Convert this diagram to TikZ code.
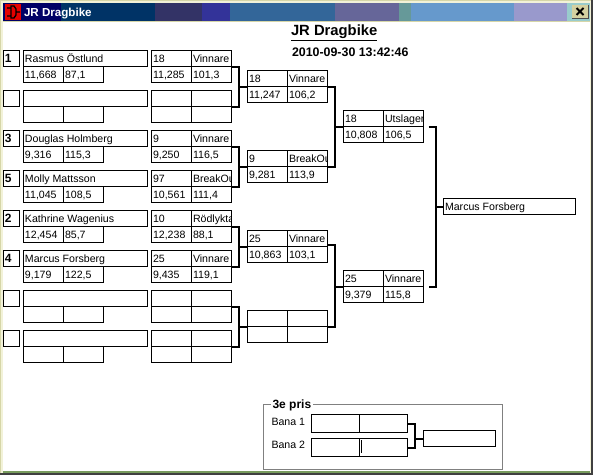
\documentclass[tikz,border=0pt]{standalone}
\usepackage{fontspec}
\setmainfont{Liberation Sans}
\usetikzlibrary{calc}
\definecolor{khaki}{HTML}{D6D6A8}
\definecolor{cream}{HTML}{F2F2D8}
\definecolor{btn}{HTML}{D4D0A0}
\tikzset{
  cellbox/.style={draw=black,line width=0.75pt,fill=white,inner sep=0pt,outer sep=0pt},
  celltext/.style={inner sep=0pt,outer sep=0pt,anchor=base west,font=\fontsize{7.95}{9}\selectfont},
  seedtext/.style={celltext,font=\bfseries\fontsize{9}{9}\selectfont},
  conn/.style={line width=1.5pt,black,line cap=butt,line join=miter},
  heading/.style={inner sep=0pt,outer sep=0pt,anchor=base west,font=\bfseries\fontsize{9.3}{10}\selectfont},
}
% name, x, y, w, h, text, text style
\newcommand{\cellbase}[7]{%
  \node[cellbox,minimum width=#4*0.75pt,minimum height=#5*0.75pt] (#1) at ({#2+#4/2},{#3+#5/2}) {};
  \begin{scope}
    \clip (#1.south west) rectangle (#1.north east);
    \node[#7] (#1t) at ({#2+1.5},{#3+11.5}) {#6};
  \end{scope}}
\newcommand{\cell}[6]{\cellbase{#1}{#2}{#3}{#4}{#5}{#6}{celltext}}
\newcommand{\racer}[6]{% prefix y seed name t1 t2
  \cellbase{s#1}{3.5}{#2}{16}{16}{#3}{seedtext}
  \cell{n#1}{23.5}{#2}{124}{16}{#4}
  \cell{t#1}{23.5}{#2+16}{40}{16}{#5}
  \cell{v#1}{63.5}{#2+16}{40}{16}{#6}}
\newcommand{\fullmatch}[7]{% prefix x y t1 t2 t3 t4
  \cell{#1a}{#2}{#3}{40}{16}{#4}
  \cell{#1b}{#2+40}{#3}{40}{16}{#5}
  \cell{#1c}{#2}{#3+16}{40}{16}{#6}
  \cell{#1d}{#2+40}{#3+16}{40}{16}{#7}}
% top match, bottom match, target match
\newcommand{\bracket}[3]{%
  \draw[conn] (#1b.south east) -- ++(7.5,0) coordinate (j#3) -- (j#3|-#2b.south east) -- (#2b.south east);
  \draw[conn] (#3a.south west) -- (j#3|-#3a.south west);}
\begin{document}
\begin{tikzpicture}[x=0.75pt,y=-0.75pt]
\useasboundingbox (0,0) rectangle (593,475);
% window frame
\fill[khaki] (0,0) rectangle (593,475);
\fill[cream] (1,1) rectangle (590.5,472.5);
\fill[black!75] (590.5,0) rectangle (593,475);
\fill[black!75] (0,473) rectangle (593,475);
\fill[khaki!80!green!70!black] (3,471) rectangle (590,472.5);
\fill[white] (3,22) rectangle (590,471);
\fill[khaki] (3,21) rectangle (590,22);
% title bar
\foreach \xa/\xb/\col in {3/61/000066,61/155/003366,155/202/333366,202/230/333399,230/335/336699,335/399/666699,399/411/669999,411/514/6699CC,514/567/9999CC,567/590/99CCCC}{
  \definecolor{bandcol}{HTML}{\col}
  \fill[bandcol] (\xa,3) rectangle (\xb,21);
}
\fill[red!90!black] (5,4) rectangle (21,20);
\draw[black,line width=1pt] (7,8) -- (11,8) (7,16) -- (11,16) (11,6) -- (14,6) -- (16,9) -- (16,15) -- (14,18) -- (11,18) -- cycle (16,12) -- (20,12);
\node[heading,text=white,font=\bfseries\fontsize{8.7}{10}\selectfont] (wintitle) at (24,16) {JR Dragbike};
% close button
\fill[black!70] (572,5) rectangle (589,19);
\fill[btn] (572,5) rectangle (588,18);
\draw[black,line width=1.4pt] (576.5,8) -- (583.5,15) (583.5,8) -- (576.5,15);
% headings
\node[heading,font=\bfseries\fontsize{11.1}{12}\selectfont] (maintitle) at (291,35) {\underline{JR Dragbike}};
\node[heading] (datetitle) at (292,56.5) {2010-09-30 13:42:46};
% first column
\racer{1}{50.5}{1}{Rasmus Östlund}{11,668}{87,1}
\racer{2}{90.5}{}{}{}{}
\racer{3}{130.5}{3}{Douglas Holmberg}{9,316}{115,3}
\racer{4}{170.5}{5}{Molly Mattsson}{11,045}{108,5}
\racer{5}{210.5}{2}{Kathrine Wagenius}{12,454}{85,7}
\racer{6}{250.5}{4}{Marcus Forsberg}{9,179}{122,5}
\racer{7}{290.5}{}{}{}{}
\racer{8}{330.5}{}{}{}{}
% second column
\fullmatch{a}{151.5}{50.5}{18}{Vinnare}{11,285}{101,3}
\fullmatch{b}{151.5}{90.5}{}{}{}{}
\fullmatch{c}{151.5}{130.5}{9}{Vinnare}{9,250}{116,5}
\fullmatch{d}{151.5}{170.5}{97}{BreakOut}{10,561}{111,4}
\fullmatch{e}{151.5}{210.5}{10}{Rödlyktan}{12,238}{88,1}
\fullmatch{f}{151.5}{250.5}{25}{Vinnare}{9,435}{119,1}
\fullmatch{g}{151.5}{290.5}{}{}{}{}
\fullmatch{h}{151.5}{330.5}{}{}{}{}
% third column
\fullmatch{p}{247.5}{70.5}{18}{Vinnare}{11,247}{106,2}
\fullmatch{q}{247.5}{150.5}{9}{BreakOut}{9,281}{113,9}
\fullmatch{r}{247.5}{230.5}{25}{Vinnare}{10,863}{103,1}
\fullmatch{u}{247.5}{310.5}{}{}{}{}
% fourth column
\fullmatch{v}{343.5}{110.5}{18}{Utslagen}{10,808}{106,5}
\fullmatch{w}{343.5}{270.5}{25}{Vinnare}{9,379}{115,8}
% final
\cell{win}{443.5}{198.5}{132}{16}{Marcus Forsberg}
% connectors
\bracket{a}{b}{p}
\bracket{c}{d}{q}
\bracket{e}{f}{r}
\bracket{g}{h}{u}
\bracket{p}{q}{v}
\draw[conn] ([yshift=1.5pt]rb.south east) -- ++(7.5,0) coordinate (jw) -- (jw|-ub.south east) -- (ub.south east);
\draw[conn] (wa.south west) -- (jw|-wa.south west);
\draw[conn] ([xshift=3.75pt]vb.south east) -- ++(7,0) coordinate (jz) -- (jz|-wb.south east) -- ([xshift=3.75pt]wb.south east);
\draw[conn] (win.west) -- (jz|-win.west);
% third place group
\draw[black!50,line width=0.75pt] (271,404.5) -- (263.7,404.5) -- (263.7,469) -- (502.3,469) -- (502.3,404.5) -- (313,404.5);
\node[heading,font=\bfseries\fontsize{9}{10}\selectfont] (prize) at (272.5,408) {3e pris};
\node[celltext] (bana1) at (271.5,425) {Bana 1};
\node[celltext] (bana2) at (271.5,448) {Bana 2};
\cell{xa}{311.5}{414.5}{48}{18}{}
\cell{xb}{359.5}{414.5}{48}{18}{}
\cell{ya}{311.5}{438.5}{48}{18}{}
\cell{yb}{359.5}{438.5}{48}{18}{}
\cell{zf}{423.5}{430.5}{72}{16}{}
\draw[black,line width=0.75pt] (361.5,440) -- (361.5,452.5);
\draw[conn] (xb.east) -- ++(7.5,0) coordinate (jx) -- (jx|-yb.east) -- (yb.east);
\draw[conn] (zf.west) -- (jx|-zf.west);
\end{tikzpicture}
\end{document}
